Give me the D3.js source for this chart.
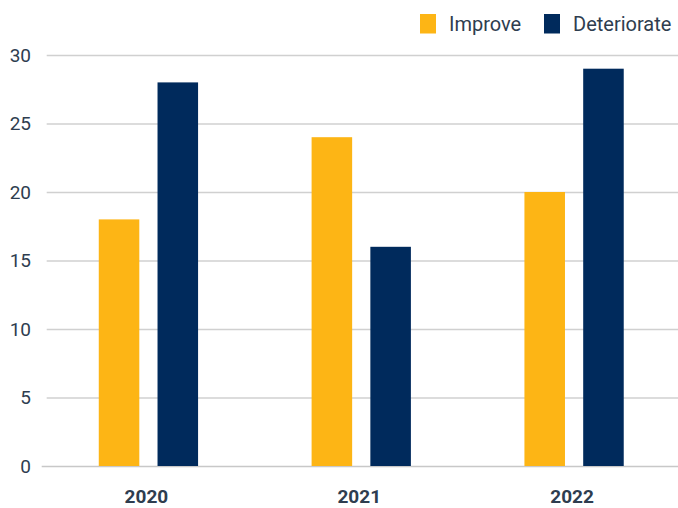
<!DOCTYPE html>
<html><head><meta charset="utf-8">
<script src="https://cdn.jsdelivr.net/npm/d3@7"></script>
<style>
html,body{margin:0;padding:0;background:#fff;}
text{font-family:Roboto,"Noto Sans",sans-serif;}
</style></head>
<body><svg id="c" width="678" height="508"></svg>
<script>
const categories = ["2020", "2021", "2022"];
const seriesNames = ["Improve", "Deteriorate"];
const improve = [18, 24, 20];
const deteriorate = [28, 16, 29];
const yTicks = [0, 5, 10, 15, 20, 25, 30];
const colors = ["#FDB515", "#002A5C"];

const svg = d3.select("#c");
const W = 678, H = 508;
const x0 = d3.scaleBand().domain(categories).range([42, 680.5]).paddingInner(0).paddingOuter(0);
const x1 = d3.scaleBand().domain(seriesNames).range([0, 99.3]).paddingInner(0.31).paddingOuter(0);
const y = d3.scaleLinear().domain([0, 30]).range([466, 55]);

// gridlines
const gridAxis = d3.axisLeft(y).tickValues(yTicks).tickSize(-(W - 46.7)).tickFormat("");
const g = svg.append("g").attr("transform", "translate(46.7,0)").call(gridAxis);
g.select(".domain").remove();
g.selectAll(".tick line").attr("stroke", "#d0d0d0").attr("stroke-width", 1.3);
g.selectAll(".tick").filter(d => d === 0).select("line")
  .attr("x1", -5).attr("stroke", "#c8c8c8").attr("stroke-width", 1.6);

// y labels
const yl = svg.append("g").attr("transform", "translate(31,0)").call(d3.axisLeft(y).tickValues(yTicks).tickSize(0).tickPadding(0));
yl.select(".domain").remove();
yl.selectAll("text").attr("font-size", 19).attr("fill", "#2E3D4F").attr("font-family", "Roboto, sans-serif").attr("text-anchor", "end");

// bars
const data = categories.map((c, i) => ({cat: c, vals: [improve[i], deteriorate[i]]}));
const groups = svg.append("g").selectAll("g").data(data).join("g")
  .attr("transform", d => `translate(${x0(d.cat) + x0.bandwidth() / 2 - 49.65},0)`);
groups.selectAll("rect").data(d => d.vals.map((v, j) => ({s: seriesNames[j], v, j})))
  .join("rect")
  .attr("x", d => x1(d.s))
  .attr("width", x1.bandwidth())
  .attr("y", d => y(d.v))
  .attr("height", d => y(0) - y(d.v))
  .attr("fill", d => colors[d.j]);

// x labels
const xl = svg.append("g").attr("transform", "translate(-2,466)").call(d3.axisBottom(x0).tickSize(0).tickPadding(0));
xl.select(".domain").remove();
xl.selectAll("text").attr("dy", null).attr("y", 37).attr("font-size", 19).attr("font-weight", "bold")
  .attr("fill", "#2E3D4F").attr("font-family", "Roboto, sans-serif");

// legend
const legendX = [420, 544];
const leg = svg.append("g").selectAll("g").data(seriesNames).join("g")
  .attr("transform", (d, i) => `translate(${legendX[i]},14)`);
leg.append("rect").attr("width", 16).attr("height", 19.5).attr("fill", (d, i) => colors[i]);
leg.append("text").attr("x", 29).attr("y", 17).attr("font-size", 20).attr("fill", "#2E3D4F").text(d => d);
</script></body></html>
